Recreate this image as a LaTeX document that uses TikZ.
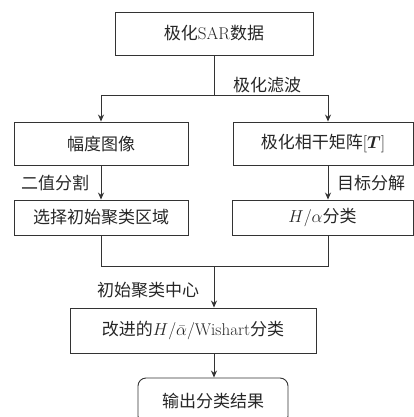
\documentclass[tikz,border=0pt]{standalone}
\usepackage{amsmath}
\usepackage{fontspec}
\newfontfamily\cjk{Noto Sans CJK SC}
\usetikzlibrary{arrows.meta}
\begin{document}
\begin{tikzpicture}[x=1pt,y=-1pt,
  every node/.style={font=\fontsize{17}{20}\selectfont, text=black!85},
  box/.style={draw=black!80, line width=0.9pt, inner sep=0pt, anchor=center},
  lbl/.style={inner sep=0pt},
  arr/.style={-{Stealth[length=7pt,width=6pt]}},
  ln/.style={draw=black!80, line width=0.9pt}]
\useasboundingbox (0,0) rectangle (414,417);
\clip (0,0) rectangle (414,417);
\node[box, minimum width=198pt, minimum height=43pt] (top) at (214,33.5) {{\cjk 极化}SAR{\cjk 数据}};
\node[box, minimum width=174pt, minimum height=43pt] (left1) at (101,143.5) {{\cjk 幅度图像}};
\node[box, minimum width=180pt, minimum height=43pt] (right1) at (323,143.5) {{\cjk 极化相干矩阵}$[\boldsymbol{T}]$};
\node[box, minimum width=174pt, minimum height=35pt] (left2) at (101,217.5) {{\cjk 选择初始聚类区域}};
\node[box, minimum width=181pt, minimum height=35pt] (right2) at (322.5,217.5) {$H/\alpha${\cjk 分类}};
\node[box, minimum width=246pt, minimum height=45pt] (imp) at (193,330.5) {{\cjk 改进的}$H/\bar{\alpha}/$Wishart{\cjk 分类}};
\node[box, rounded corners=8pt, minimum width=150pt, minimum height=46pt] (out) at (213,401) {{\cjk 输出分类结果}};
\coordinate (s1) at (214,95);
\coordinate (sl) at (101,95);
\coordinate (sr) at (328,95);
\coordinate (m) at (214,266);
\draw[ln] (top.south) -- (s1);
\draw[ln] (sl) -- (sr);
\draw[ln,arr] (sl) -- (left1.north);
\draw[ln,arr] (sr) -- (sr |- right1.north);
\draw[ln,arr] (left1.south) -- (left2.north);
\draw[ln,arr] (sr |- right1.south) -- (sr |- right2.north);
\draw[ln] (left2.south) -- (left2.south |- m) -- (sr |- m) -- (sr |- right2.south);
\draw[ln,arr] (m) -- (m |- imp.north);
\draw[ln,arr] (m |- imp.south) -- (m |- out.north);
\node[lbl] (l1) at (267,85) {{\cjk 极化滤波}};
\node[lbl] (l2) at (55,183) {{\cjk 二值分割}};
\node[lbl] (l3) at (371,183) {{\cjk 目标分解}};
\node[lbl] (l4) at (148,290) {{\cjk 初始聚类中心}};
\end{tikzpicture}
\end{document}
